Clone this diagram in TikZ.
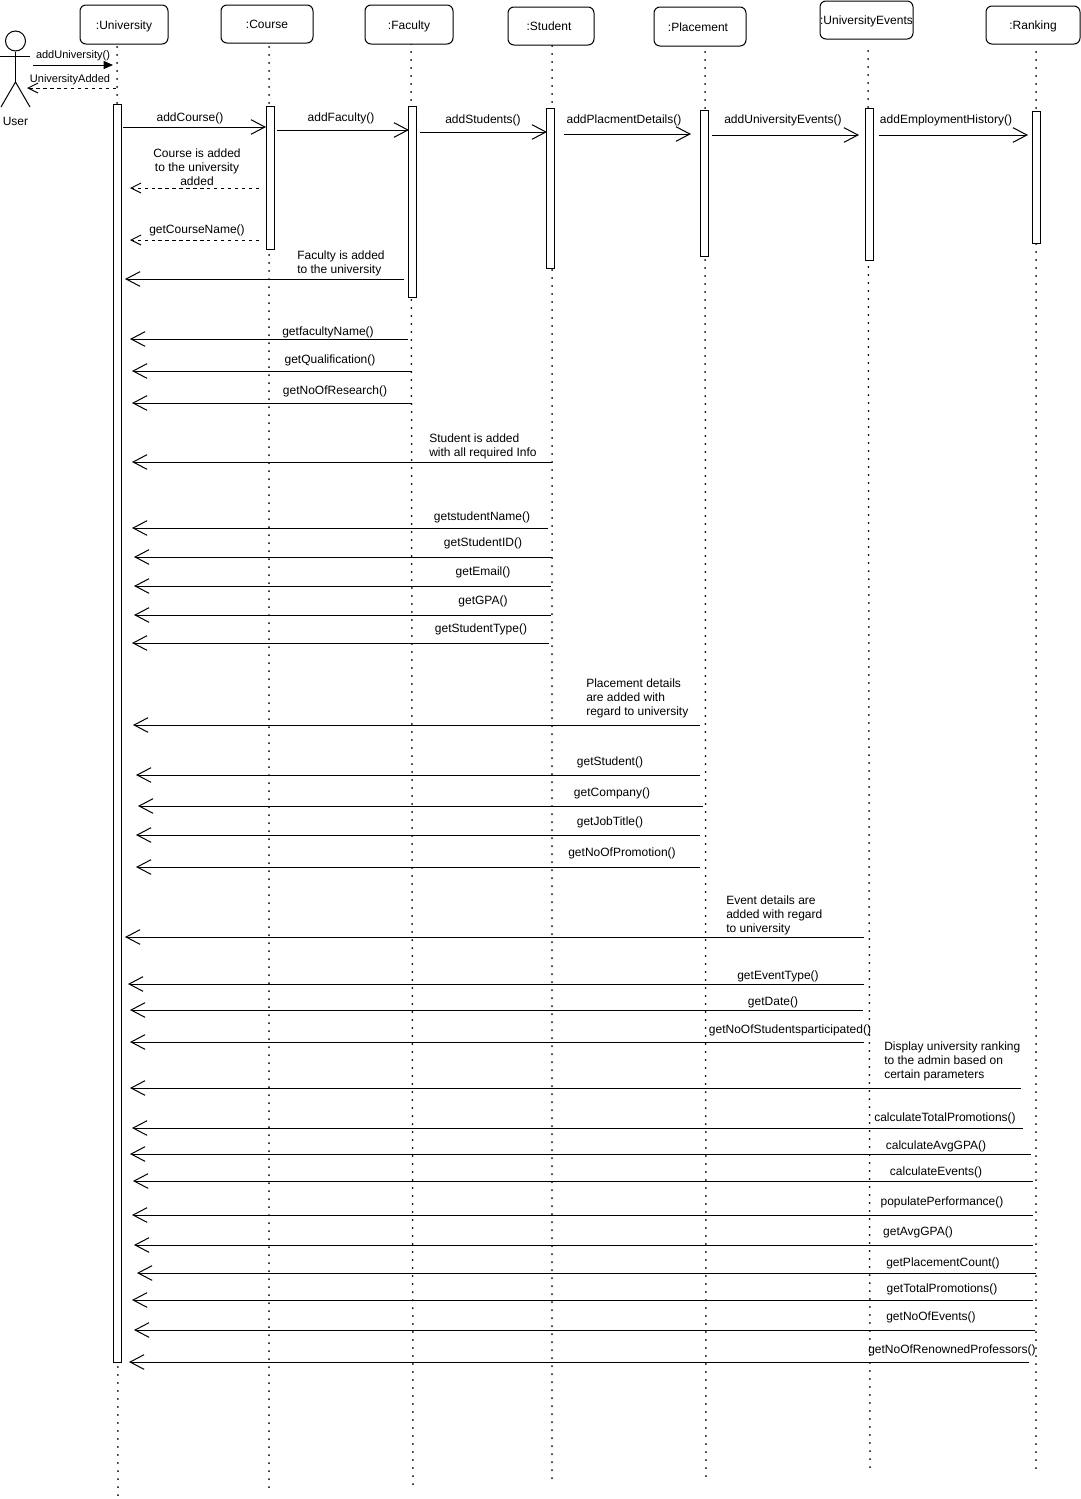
\documentclass[tikz,border=0pt]{standalone}
\usepackage{fontspec}
\setmainfont{Liberation Sans}
\usetikzlibrary{arrows.meta}
\tikzset{>={Straight Barb[length=10.5pt,width=11pt]}}
\tikzset{
  objbox/.style={draw,rounded corners=4.5pt,fill=white,line width=.75pt,font=\fontsize{9}{10.5}\selectfont,text height=8.8pt,text depth=1.9pt},
  actbar/.style={draw,fill=white,line width=.75pt,minimum width=6pt,inner sep=0pt},
  life/.style={line width=1.5pt,line cap=round,dash pattern=on 0pt off 6pt},
  call/.style={->,line width=.75pt},
  reply/.style={-{Straight Barb[length=7.5pt,width=7.5pt]},line width=.75pt,dash pattern=on 2.6pt off 2.6pt},
  lbl/.style={inner sep=0pt,yshift=-.75pt,font=\fontsize{9}{10.5}\selectfont,align=center},
  note/.style={inner sep=0pt,yshift=-.75pt,font=\fontsize{9}{10.5}\selectfont,align=left,anchor=west}
}
\begin{document}
\begin{tikzpicture}[x=.75pt,y=-.75pt]
  \useasboundingbox (0,0) rectangle (1081,1499);
  % lifelines
  \coordinate (unitop) at (117,47);   \coordinate (uniend) at (118,1495.5);
  \coordinate (coutop) at (269,47);   \coordinate (couend) at (269,1487.5);
  \coordinate (factop) at (411,44);   \coordinate (facend) at (413,1484.5);
  \coordinate (stutop) at (552,46);   \coordinate (stuend) at (552,1478.5);
  \coordinate (plctop) at (705,52);   \coordinate (plcend) at (706,1476.5);
  \coordinate (evttop) at (868,51);   \coordinate (evtend) at (870,1467.5);
  \coordinate (rnktop) at (1036,52);  \coordinate (rnkend) at (1036,1468.5);
  \draw[life] (unitop) -- (uniend);
  \draw[life] (coutop) -- (couend);
  \draw[life] (factop) -- (facend);
  \draw[life] (stutop) -- (stuend);
  \draw[life] (plctop) -- (plcend);
  \draw[life] (evttop) -- (evtend);
  \draw[life] (rnktop) -- (rnkend);
  % object boxes
  \node[objbox,minimum width=88*.75pt,minimum height=39*.75pt] (university) at (124,24.5) {:University};
  \node[objbox,minimum width=92*.75pt,minimum height=38*.75pt] (course) at (267,24) {:Course};
  \node[objbox,minimum width=88*.75pt,minimum height=39*.75pt] (faculty) at (409,24.5) {:Faculty};
  \node[objbox,minimum width=86*.75pt,minimum height=38*.75pt] (student) at (551,26) {:Student\hspace*{3pt}};
  \node[objbox,minimum width=92*.75pt,minimum height=39*.75pt] (placement) at (700,26.5) {:Placement\hspace*{3pt}};
  \node[objbox,minimum width=93*.75pt,minimum height=38*.75pt,inner xsep=0pt] (events) at (866.5,20) {:UniversityEvents};
  \node[objbox,minimum width=94*.75pt,minimum height=38*.75pt] (ranking) at (1033,25) {:Ranking};
  % activation bars
  \node[actbar,minimum height=1258*.75pt] (unibar) at (117.5,733) {};
  \node[actbar,minimum height=143*.75pt] (coubar) at (270.5,177.5) {};
  \node[actbar,minimum height=191*.75pt] (facbar) at (412,201.5) {};
  \node[actbar,minimum height=160*.75pt] (stubar) at (550.5,188) {};
  \node[actbar,minimum height=146*.75pt] (plcbar) at (704.5,183) {};
  \node[actbar,minimum height=152*.75pt] (evtbar) at (869.5,184) {};
  \node[actbar,minimum height=132*.75pt] (rnkbar) at (1036,177) {};
  % user
  \node[draw,circle,line width=.75pt,minimum size=15pt,inner sep=0pt] (userhead) at (15.5,41) {};
  \coordinate (hip) at (15.5,82); \coordinate (armL) at (0,56); \coordinate (armR) at (30,56);
  \coordinate (legL) at (1,107); \coordinate (legR) at (30,107);
  \draw[line width=.75pt] (userhead.south) -- (hip);
  \draw[line width=.75pt] (armL) -- (armR);
  \draw[line width=.75pt] (legL) -- (hip) -- (legR);
  \node[lbl] (userlbl) at (15.5,120.5) {User};
  % first messages
  \coordinate (m1a) at (33,65); \coordinate (m1b) at (113,65);
  \draw[-{Triangle[length=7pt,width=6pt]},line width=.75pt] (m1a) -- (m1b);
  \node[lbl,font=\fontsize{8.25}{10}\selectfont] (l1) at (73,55) {addUniversity()};
  \coordinate (m2a) at (116,88); \coordinate (m2b) at (27,88);
  \draw[reply] (m2a) -- (m2b);
  \node[lbl,font=\fontsize{8.25}{10}\selectfont] (l2) at (70,79) {UniversityAdded};
  \coordinate (m3a) at (123,127); \coordinate (m3b) at (266,127);
  \draw[call] (m3a) -- (m3b);
  \node[lbl] (l3) at (190,117) {addCourse()};
  \coordinate (m4a) at (277,130); \coordinate (m4b) at (409,130);
  \draw[call] (m4a) -- (m4b);
  \node[lbl] (l4) at (341,117) {addFaculty()};
  \coordinate (m5a) at (420,132); \coordinate (m5b) at (547,132);
  \draw[call] (m5a) -- (m5b);
  \node[lbl] (l5) at (483,119) {addStudents()};
  \coordinate (m6a) at (564,134); \coordinate (m6b) at (691,134);
  \draw[call] (m6a) -- (m6b);
  \node[lbl] (l6) at (624,119) {addPlacmentDetails()};
  \coordinate (m7a) at (712,135); \coordinate (m7b) at (859,135);
  \draw[call] (m7a) -- (m7b);
  \node[lbl] (l7) at (783,119) {addUniversityEvents()};
  \coordinate (m8a) at (879,135); \coordinate (m8b) at (1028,135);
  \draw[call] (m8a) -- (m8b);
  \node[lbl] (l8) at (946,119) {addEmploymentHistory()};
  % course and faculty
  \coordinate (m9a) at (259,188); \coordinate (m9b) at (130,188);
  \draw[reply] (m9a) -- (m9b);
  \node[lbl] (l9) at (197,166) {Course is added\\to the university\\added};
  \coordinate (m10a) at (259,240); \coordinate (m10b) at (130,240);
  \draw[reply] (m10a) -- (m10b);
  \node[lbl] (l10) at (197,229) {getCourseName()};
  \coordinate (m11a) at (404,279); \coordinate (m11b) at (125,279);
  \draw[call] (m11a) -- (m11b);
  \node[note] (l11) at (297,262) {Faculty is added\\to the university};
  \coordinate (m12a) at (408,339); \coordinate (m12b) at (130,339);
  \draw[call] (m12a) -- (m12b);
  \node[lbl] (l12) at (328,331) {getfacultyName()};
  \coordinate (m13a) at (412,371); \coordinate (m13b) at (132,371);
  \draw[call] (m13a) -- (m13b);
  \node[lbl] (l13) at (330,359) {getQualification()};
  \coordinate (m14a) at (412,403); \coordinate (m14b) at (132,403);
  \draw[call] (m14a) -- (m14b);
  \node[lbl] (l14) at (335,390) {getNoOfResearch()};
  % student
  \coordinate (m15a) at (552,462); \coordinate (m15b) at (132,462);
  \draw[call] (m15a) -- (m15b);
  \node[note] (l15) at (429,445) {Student is added\\with all required Info};
  \coordinate (m16a) at (548,528); \coordinate (m16b) at (132,528);
  \draw[call] (m16a) -- (m16b);
  \node[lbl] (l16) at (482,516) {getstudentName()};
  \coordinate (m17a) at (552,557); \coordinate (m17b) at (134,557);
  \draw[call] (m17a) -- (m17b);
  \node[lbl] (l17) at (483,542) {getStudentID()};
  \coordinate (m18a) at (551,586); \coordinate (m18b) at (134,586);
  \draw[call] (m18a) -- (m18b);
  \node[lbl] (l18) at (483,571) {getEmail()};
  \coordinate (m19a) at (551,615); \coordinate (m19b) at (134,615);
  \draw[call] (m19a) -- (m19b);
  \node[lbl] (l19) at (483,600) {getGPA()};
  \coordinate (m20a) at (549,643); \coordinate (m20b) at (132,643);
  \draw[call] (m20a) -- (m20b);
  \node[lbl] (l20) at (481,628) {getStudentType()};
  % placement
  \coordinate (m21a) at (700,725); \coordinate (m21b) at (133,725);
  \draw[call] (m21a) -- (m21b);
  \node[note] (l21) at (586,697) {Placement details\\are added with\\regard to university};
  \coordinate (m22a) at (700,775); \coordinate (m22b) at (136,775);
  \draw[call] (m22a) -- (m22b);
  \node[lbl] (l22) at (610,761) {getStudent()};
  \coordinate (m23a) at (703,806); \coordinate (m23b) at (138,806);
  \draw[call] (m23a) -- (m23b);
  \node[lbl] (l23) at (612,792) {getCompany()};
  \coordinate (m24a) at (700,835); \coordinate (m24b) at (136,835);
  \draw[call] (m24a) -- (m24b);
  \node[lbl] (l24) at (610,821) {getJobTitle()};
  \coordinate (m25a) at (700,867); \coordinate (m25b) at (136,867);
  \draw[call] (m25a) -- (m25b);
  \node[lbl] (l25) at (622,852) {getNoOfPromotion()};
  % events
  \coordinate (m26a) at (864,937); \coordinate (m26b) at (125,937);
  \draw[call] (m26a) -- (m26b);
  \node[note] (l26) at (726,914) {Event details are\\added with regard\\to university};
  \coordinate (m27a) at (864,984); \coordinate (m27b) at (128,984);
  \draw[call] (m27a) -- (m27b);
  \node[lbl] (l27) at (778,975) {getEventType()};
  \coordinate (m28a) at (863,1010); \coordinate (m28b) at (130,1010);
  \draw[call] (m28a) -- (m28b);
  \node[lbl] (l28) at (773,1001) {getDate()};
  \coordinate (m29a) at (864,1042); \coordinate (m29b) at (130,1042);
  \draw[call] (m29a) -- (m29b);
  \node[lbl] (l29) at (790,1029) {getNoOfStudentsparticipated()};
  % ranking
  \coordinate (m30a) at (1021,1088); \coordinate (m30b) at (130,1088);
  \draw[call] (m30a) -- (m30b);
  \node[note] (l30) at (884,1060) {Display university ranking\\to the admin based on\\certain parameters};
  \coordinate (m31a) at (1023,1128); \coordinate (m31b) at (132,1128);
  \draw[call] (m31a) -- (m31b);
  \node[lbl] (l31) at (945,1117) {calculateTotalPromotions()};
  \coordinate (m32a) at (1031,1154); \coordinate (m32b) at (130,1154);
  \draw[call] (m32a) -- (m32b);
  \node[lbl] (l32) at (936,1145) {calculateAvgGPA()};
  \coordinate (m33a) at (1033,1181); \coordinate (m33b) at (133,1181);
  \draw[call] (m33a) -- (m33b);
  \node[lbl] (l33) at (936,1171) {calculateEvents()};
  \coordinate (m34a) at (1033,1215); \coordinate (m34b) at (132,1215);
  \draw[call] (m34a) -- (m34b);
  \node[lbl] (l34) at (942,1201) {populatePerformance()};
  \coordinate (m35a) at (1033,1245); \coordinate (m35b) at (134,1245);
  \draw[call] (m35a) -- (m35b);
  \node[lbl] (l35) at (918,1231) {getAvgGPA()};
  \coordinate (m36a) at (1036,1273); \coordinate (m36b) at (137,1273);
  \draw[call] (m36a) -- (m36b);
  \node[lbl] (l36) at (943,1262) {getPlacementCount()};
  \coordinate (m37a) at (1033,1300); \coordinate (m37b) at (132,1300);
  \draw[call] (m37a) -- (m37b);
  \node[lbl] (l37) at (942,1288) {getTotalPromotions()};
  \coordinate (m38a) at (1035,1330); \coordinate (m38b) at (134,1330);
  \draw[call] (m38a) -- (m38b);
  \node[lbl] (l38) at (931,1316) {getNoOfEvents()};
  \coordinate (m39a) at (1029,1362); \coordinate (m39b) at (129,1362);
  \draw[call] (m39a) -- (m39b);
  \node[lbl] (l39) at (952,1349) {getNoOfRenownedProfessors()};
\end{tikzpicture}
\end{document}
